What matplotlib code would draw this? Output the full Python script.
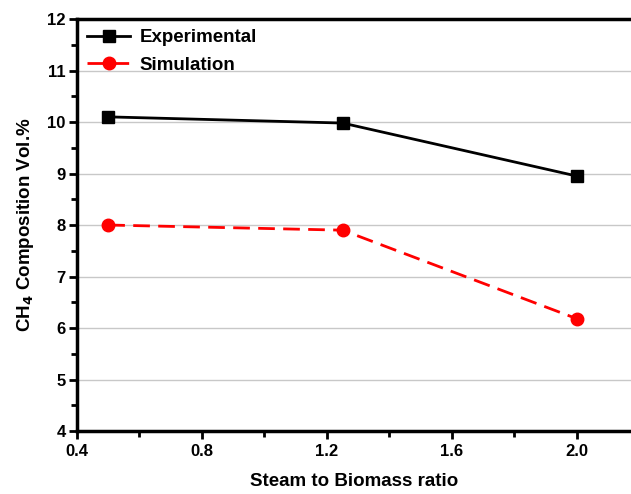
import matplotlib
matplotlib.use("Agg")
import matplotlib.pyplot as plt
from matplotlib.ticker import MultipleLocator, FormatStrFormatter

ratio = [0.5, 1.25, 2.0]
experimental = [10.1, 9.98, 8.95]
simulation = [8.0, 7.9, 6.18]

plt.rcParams["font.family"] = ["Liberation Sans", "DejaVu Sans"]
plt.rcParams["font.weight"] = "bold"
plt.rcParams["mathtext.default"] = "bf"

fig = plt.figure(figsize=(6.31, 4.94), dpi=100)
ax = fig.add_axes([0.122, 0.1275, 0.878, 0.834])

ax.plot(ratio, experimental, color="black", lw=2, marker="s", ms=8,
        label="Experimental")
ax.plot(ratio, simulation, color="red", lw=2, ls=(0, (6, 3)), marker="o",
        ms=9, label="Simulation")

ax.set_xlim(0.4, 2.173)
ax.set_ylim(4, 12)
ax.xaxis.set_major_locator(MultipleLocator(0.4))
ax.xaxis.set_minor_locator(MultipleLocator(0.2))
ax.yaxis.set_major_locator(MultipleLocator(1))
ax.yaxis.set_minor_locator(MultipleLocator(0.5))
ax.xaxis.set_major_formatter(FormatStrFormatter("%.1f"))

ax.grid(axis="y", color="#c8c8c8", lw=1)
ax.set_axisbelow(True)
ax.spines["right"].set_visible(False)
for s in ("left", "bottom", "top"):
    ax.spines[s].set_linewidth(2.5)
ax.tick_params(which="both", direction="out", width=2, labelsize=12)
ax.tick_params(which="major", length=6)
ax.tick_params(which="minor", length=4)
ax.tick_params(axis="y", pad=2)

ax.set_xlabel("Steam to Biomass ratio", fontsize=13.5, fontweight="bold", labelpad=10)
ax.set_ylabel("CH$_4$ Composition Vol.%", fontsize=13.5, fontweight="bold", labelpad=8)

ax.legend(loc="upper left", frameon=False, fontsize=13.5,
          handlelength=2.3, borderaxespad=0.0, borderpad=0.55,
          labelspacing=0.55, handletextpad=0.5)

fig.savefig("out.png", dpi=100)
